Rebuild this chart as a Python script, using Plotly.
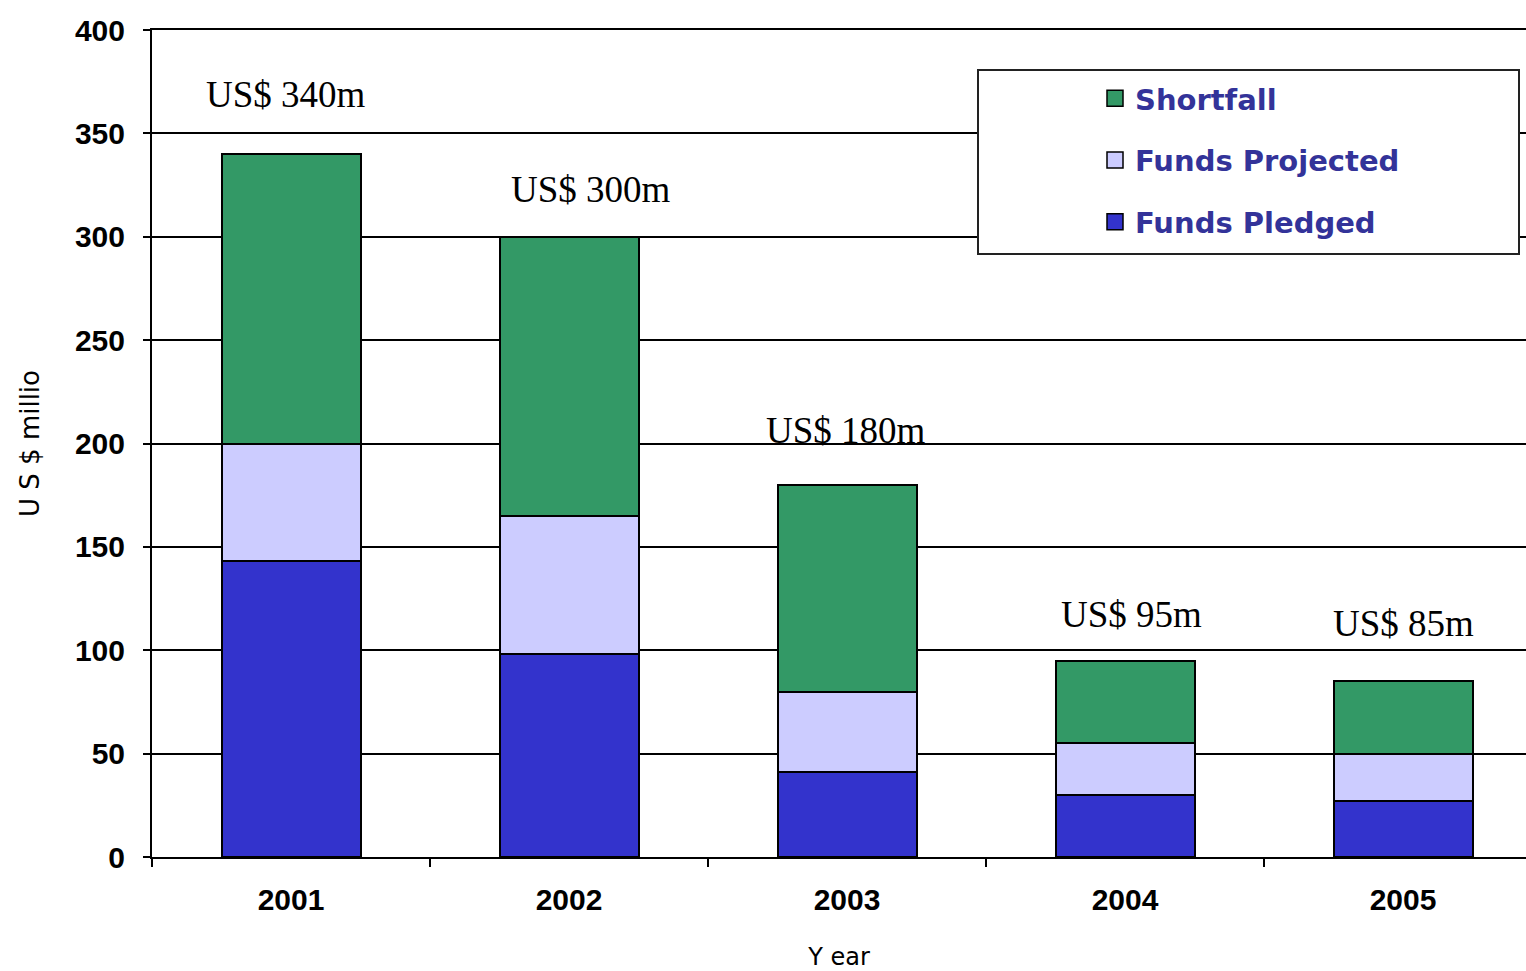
import plotly.graph_objects as go

years = ["2001", "2002", "2003", "2004", "2005"]
funds_pledged = [143, 98, 41, 30, 27]
funds_projected = [57, 67, 39, 25, 23]
shortfall = [140, 135, 100, 40, 35]
totals = [p + q + s for p, q, s in zip(funds_pledged, funds_projected, shortfall)]
total_labels = ["US$ 340m", "US$ 300m", "US$ 180m", "US$ 95m", "US$ 85m"]

label_xshift = [-5, 22, -1, 6, 0]
label_yshift = [60, 47, 54, 46, 58]

PL, PR, PT, PB = 152, 1526, 30, 857
W, H = 1526, 971
pw, ph = PR - PL, PB - PT

fig = go.Figure()
series = [
    ("Funds Pledged", funds_pledged, "#3333CC", 3),
    ("Funds Projected", funds_projected, "#CCCCFF", 2),
    ("Shortfall", shortfall, "#339966", 1),
]
for name, vals, col, rank in series:
    fig.add_trace(go.Bar(
        x=years, y=vals, name=name, width=0.5,
        marker=dict(color=col, line=dict(color="black", width=2)),
        showlegend=False,
    ))
# legend entries with larger square swatches
for name, vals, col, rank in series:
    fig.add_trace(go.Scatter(
        x=[None], y=[None], mode="markers", name=name,
        marker=dict(symbol="square", size=23, color=col,
                    line=dict(color="black", width=1.5)),
        legendgroup=name, legendrank=rank, showlegend=True,
    ))

for i, (tot, lab) in enumerate(zip(totals, total_labels)):
    fig.add_annotation(
        x=i, y=tot, text=lab, showarrow=False,
        xanchor="center", yanchor="middle",
        xshift=label_xshift[i], yshift=label_yshift[i],
        font=dict(family="Liberation Serif", size=37, color="black"),
    )

# legend box
fig.add_shape(type="rect", xref="paper", yref="paper",
              x0=(978 - PL) / pw, x1=(1519 - PL) / pw,
              y0=(PB - 254) / ph, y1=(PB - 70) / ph,
              line=dict(color="#222222", width=2), fillcolor="white", layer="above")

tickfont = dict(family="Liberation Sans", size=30, color="black", weight="bold")

fig.update_layout(
    width=W, height=H,
    margin=dict(l=PL, r=W - PR, t=PT, b=H - PB),
    plot_bgcolor="white", paper_bgcolor="white",
    barmode="stack", bargap=0.5,
    showlegend=True,
    legend=dict(
        x=(1095 - PL) / pw, y=(PB - 73) / ph, xanchor="left", yanchor="top",
        bgcolor="rgba(0,0,0,0)", borderwidth=0,
        font=dict(family="DejaVu Sans", size=29, color="#333399", weight="bold"),
        traceorder="grouped", tracegroupgap=21,
        itemwidth=30,
    ),
    xaxis=dict(
        range=[-0.5, -0.5 + pw / 278],
        showline=True, linecolor="black", linewidth=2, mirror=True,
        ticks="outside", ticklen=8, tickwidth=2, tickcolor="black",
        tickson="boundaries", showgrid=False,
        tickfont=tickfont, ticklabelstandoff=15,
        title=dict(text="Y ear", standoff=33,
                   font=dict(family="DejaVu Sans", size=24, color="black")),
    ),
    yaxis=dict(
        range=[0, 400], tickvals=[0, 50, 100, 150, 200, 250, 300, 350, 400],
        showline=True, linecolor="black", linewidth=2,
        ticks="outside", ticklen=7, tickwidth=2, tickcolor="black",
        showgrid=True, gridcolor="black", gridwidth=1.5,
        zeroline=False,
        tickfont=tickfont, ticklabelstandoff=12,
        title=dict(text="U S $ millio", standoff=28,
                   font=dict(family="DejaVu Sans", size=26, color="black")),
    ),
)

fig.write_html(
    "out.html",
    config={"displayModeBar": False},
    post_script="document.body.style.margin='0';document.body.style.overflow='hidden';",
)
